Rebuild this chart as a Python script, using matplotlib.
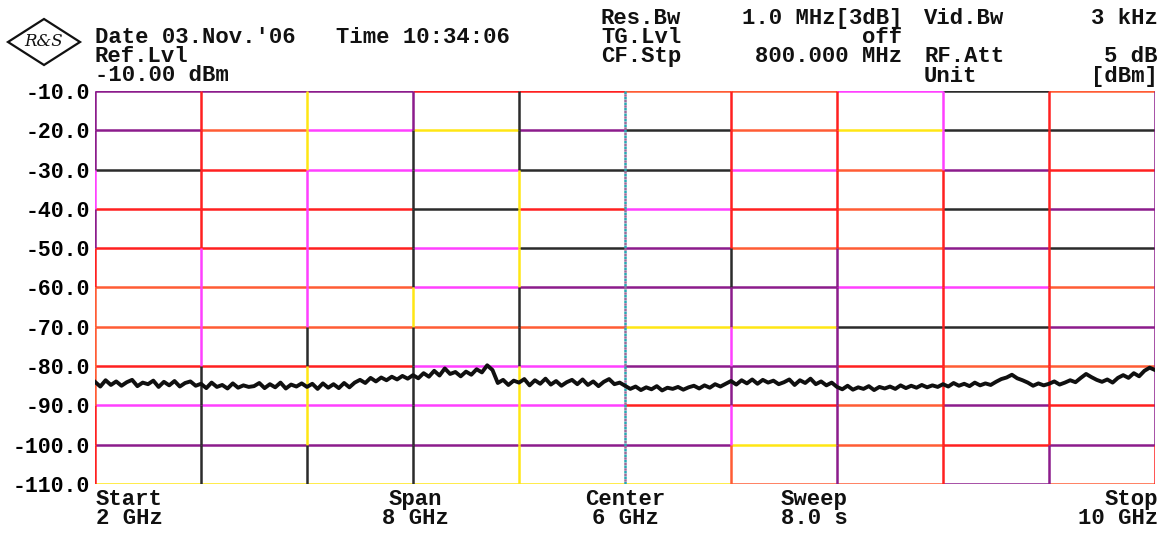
import numpy as np
import matplotlib
matplotlib.use("Agg")
import matplotlib.pyplot as plt
from matplotlib.patches import Polygon

# ---------------- data ----------------
f_start_ghz = 2.0
f_stop_ghz = 10.0
level_ticks = [-10, -20, -30, -40, -50, -60, -70, -80, -90, -100, -110]
level_labels = ["-10.0", "-20.0", "-30.0", "-40.0", "-50.0", "-60.0",
                "-70.0", "-80.0", "-90.0", "-100.0", "-110.0"]
freq_grid_ghz = [2.0, 2.8, 3.6, 4.4, 5.2, 6.0, 6.8, 7.6, 8.4, 9.2, 10.0]

# measured trace, dBm, one value every 40 MHz from 2 GHz to 10 GHz
trace_dbm = [
    -84.0, -85.2, -83.6, -84.8, -83.9, -85.0, -84.1, -83.5, -85.1, -84.2,
    -84.6, -83.7, -85.3, -84.0, -84.9, -83.8, -85.2, -84.3, -83.9, -85.0,
    -84.5, -85.6, -84.2, -85.3, -84.8, -85.7, -84.4, -85.5, -84.9, -85.3,
    -85.1, -84.3, -85.6, -84.6, -85.4, -84.2, -85.7, -84.7, -85.2, -84.4,
    -85.3, -84.5, -85.8, -84.4, -85.5, -84.6, -85.6, -84.3, -85.4, -84.2,
    -83.5, -84.3, -83.0, -83.9, -82.9, -83.6, -82.7, -83.4, -82.5, -83.2,
    -82.3, -83.1, -81.8, -82.7, -81.2, -82.4, -80.6, -82.0, -81.5, -82.6,
    -81.4, -82.2, -80.8, -81.6, -79.8, -81.0, -84.3, -83.5, -84.8, -83.7,
    -84.2, -83.3, -84.9, -83.6, -84.5, -83.2, -84.7, -83.8, -85.0, -84.1,
    -83.5, -84.6, -83.4, -84.8, -83.9, -85.1, -84.0, -83.3, -84.6, -84.2,
    -85.0, -85.8, -85.2, -86.1, -85.4, -85.9, -85.1, -86.2, -85.5, -85.8,
    -85.3, -86.0, -85.4, -85.0, -85.7, -84.9, -85.5, -84.6, -85.2, -84.5,
    -83.8, -84.7, -83.6, -84.4, -83.4, -84.5, -83.5, -84.2, -83.7, -84.6,
    -84.1, -83.4, -84.8, -83.6, -84.3, -83.2, -84.6, -83.9, -84.9, -84.2,
    -85.3, -85.9, -85.0, -86.0, -85.4, -85.8, -85.1, -86.1, -85.3, -85.7,
    -85.2, -85.8, -84.9, -85.6, -85.0, -85.5, -84.8, -85.4, -84.9, -85.3,
    -84.6, -85.2, -84.3, -85.0, -84.5, -85.1, -84.2, -84.9, -84.4, -84.8,
    -84.0, -83.3, -82.9, -82.2, -83.1, -83.6, -84.2, -85.0, -84.4, -84.9,
    -84.5, -83.9, -84.7, -84.2, -83.6, -84.1, -83.0, -82.0, -82.8, -83.5,
    -84.0, -83.4, -84.2, -83.0, -82.3, -83.0, -81.8, -82.6, -81.2, -80.4,
    -81.0,
]
trace_freq_ghz = np.linspace(f_start_ghz, f_stop_ghz, len(trace_dbm))

# ---------------- colours of the plotter pens ----------------
K = "#2b2b2b"
P = "#8c1c8c"
M = "#ff40ff"
R = "#ff2020"
O = "#ff5c34"
Y = "#ffe614"

# horizontal graticule lines (top to bottom), colour per column
h_colors = [
    [P, P, P, R, R, O, O, M, K, O],
    [P, O, M, Y, P, K, O, Y, K, K],
    [K, R, M, M, K, K, M, O, P, R],
    [R, R, R, K, R, M, R, O, K, P],
    [R, R, R, M, K, P, O, O, P, K],
    [O, O, O, M, P, P, P, M, M, O],
    [O, O, O, O, O, Y, Y, K, K, P],
    [R, R, R, M, M, P, P, R, O, O],
    [M, M, M, M, M, R, R, O, P, R],
    [P, P, P, P, P, P, Y, O, R, P],
    [Y, Y, Y, Y, Y, Y, O, O, P, O],
]
# vertical graticule lines (left to right), colour per row (top to bottom)
v_colors = [
    [P, P, M, P, R, O, O, O, R, R],
    [R, R, R, R, M, M, M, K, K, K],
    [Y, Y, M, M, M, M, K, Y, Y, K],
    [P, K, K, K, K, Y, K, K, K, K],
    [K, K, Y, Y, Y, K, K, Y, Y, Y],
    None,
    [R, R, R, R, K, P, M, P, M, O],
    [R, R, R, R, P, P, P, P, P, P],
    [M, M, R, R, R, R, R, R, R, R],
    [R, R, R, R, R, R, R, R, R, P],
    [P, P, P, P, P, P, P, P, P, R],
]

W, H = 1165, 533
fig = plt.figure(figsize=(W / 100, H / 100), dpi=100)
fig.patch.set_facecolor("white")

ax = fig.add_axes([95 / W, 1 - 484 / H, 1060 / W, 393 / H])
ax.set_xlim(f_start_ghz, f_stop_ghz)
ax.set_ylim(level_ticks[-1], level_ticks[0])
for s in ax.spines.values():
    s.set_visible(False)
ax.set_xticks([])
ax.set_yticks(level_ticks)
ax.set_yticklabels(level_labels, family="Liberation Mono", weight="bold",
                   fontsize=15.5)
ax.tick_params(axis="y", length=0, pad=3.5)

lw = 1.8
# horizontal lines
for yi, lev in enumerate(level_ticks):
    for ci in range(len(freq_grid_ghz) - 1):
        ax.plot(freq_grid_ghz[ci:ci + 2], [lev, lev], color=h_colors[yi][ci],
                lw=lw, solid_capstyle="butt", zorder=2)
# vertical lines
for xi, fr in enumerate(freq_grid_ghz):
    cols = v_colors[xi]
    if cols is None:
        ax.plot([fr, fr], [level_ticks[-1], level_ticks[0]], color="#28a8b4",
                lw=1.8, ls=(0, (1, 1.2)), zorder=2)
        ax.plot([fr, fr], [level_ticks[-1], level_ticks[0]], color="#9a6a9a",
                lw=1.8, ls=(1.1, (1, 1.2)), zorder=2)
        continue
    for ri in range(len(level_ticks) - 1):
        ax.plot([fr, fr], [level_ticks[ri], level_ticks[ri + 1]],
                color=cols[ri], lw=lw, solid_capstyle="butt", zorder=2)

# trace
ax.plot(trace_freq_ghz, trace_dbm, color="#101010", lw=2.8, zorder=4)

# ---------------- header / footer annotation ----------------
LS = 0.89


def block(x, y_top, s, ha="left", ma=None, size=16):
    fig.text(x / W, 1 - y_top / H, s, ha=ha, va="top",
             multialignment=ma or ha, linespacing=LS,
             family="Liberation Mono", weight="bold", fontsize=size,
             color="#111111")


block(95, 27, "Date 03.Nov.'06\nRef.Lvl\n-10.00 dBm")
block(336, 27, "Time 10:34:06")

block(601, 8, "Res.Bw\nTG.Lvl\nCF.Stp")
block(902, 8, "1.0 MHz[3dB]\noff\n800.000 MHz", ha="right")
block(924, 8, "Vid.Bw\n\nRF.Att\nUnit")
block(1158, 8, "3 kHz\n\n5 dB\n[dBm]", ha="right")

block(96, 489, "Start\n2 GHz")
block(415, 489, "Span\n8 GHz", ha="center")
block(585, 489, "Center\n6 GHz", ma="center")
block(781, 489, "Sweep\n8.0 s")
block(1158, 489, "Stop\n10 GHz", ha="right")

# maker logo
cx, cy, hw, hh = 44, 42, 36, 23
diamond = Polygon([((cx - hw) / W, 1 - cy / H), (cx / W, 1 - (cy - hh) / H),
                   ((cx + hw) / W, 1 - cy / H), (cx / W, 1 - (cy + hh) / H)],
                  closed=True, fill=False, edgecolor="#111111", lw=1.6,
                  transform=fig.transFigure)
fig.patches.append(diamond)
fig.text(cx / W, 1 - cy / H, "R&S", ha="center", va="center",
         family="DejaVu Serif", fontsize=12, style="italic", color="#111111")

fig.savefig("out.png", dpi=100, facecolor="white")
